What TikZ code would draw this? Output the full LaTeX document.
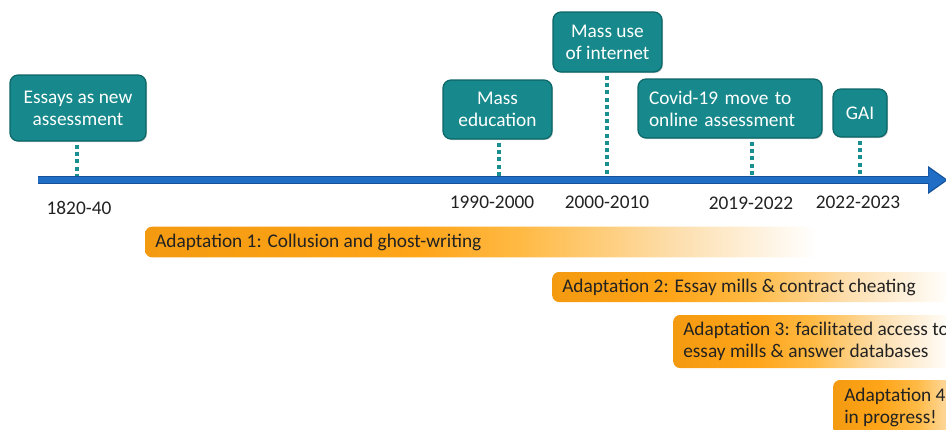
\documentclass[tikz,border=0pt]{standalone}
\usepackage{fontspec}
\setmainfont{Carlito}
\usetikzlibrary{arrows.meta,shadows}

\definecolor{tealfill}{HTML}{17888B}
\definecolor{tealedge}{HTML}{0C6668}
\definecolor{tealdot}{HTML}{1A8F92}
\definecolor{lineblue}{HTML}{1F6DC4}
\definecolor{lineedge}{HTML}{15509A}
\definecolor{ink}{HTML}{222222}
\definecolor{orA}{HTML}{F39A10}
\definecolor{orB}{HTML}{FFA51A}
\definecolor{orC}{HTML}{FFBA45}
\definecolor{orD}{HTML}{FDDFAF}

% horizontal fades: stops lie between 25bp and 75bp (the part stretched over the bar)
\pgfdeclarehorizontalshading{fadelong}{100bp}{%
  color(0bp)=(orA); color(25bp)=(orA); color(45bp)=(orB); color(52.5bp)=(orC);
  color(64bp)=(orD); color(74bp)=(white); color(100bp)=(white)}
\pgfdeclarehorizontalshading{fademid}{100bp}{%
  color(0bp)=(orA); color(25bp)=(orA); color(40bp)=(orB); color(50bp)=(orC);
  color(62bp)=(orD); color(75bp)=(white); color(100bp)=(white)}
\pgfdeclarehorizontalshading{fadeshort}{100bp}{%
  color(0bp)=(orA); color(25bp)=(orA); color(45bp)=(orB); color(60bp)=(orC);
  color(75bp)=(orD); color(100bp)=(orD)}

\tikzset{
  event/.style={draw=tealedge, line width=0.9pt, fill=tealfill, rounded corners=6pt,
    text=white, align=center, inner sep=0pt,
    font=\fontsize{14.5}{16.5}\selectfont,
    drop shadow={opacity=0.35, shadow xshift=0.8pt, shadow yshift=-0.8pt}},
  tick/.style={draw=tealdot, line width=3pt, dash pattern=on 3pt off 2.4pt},
  year/.style={text=ink, font=\fontsize{14.5}{16.5}\selectfont, inner sep=0pt},
  bar/.style={rounded corners=5pt, inner sep=0pt, anchor=west},
  bartext/.style={text=ink, align=left, anchor=west, inner sep=0pt,
    font=\fontsize{14.5}{16.5}\selectfont},
}

\begin{document}
\begin{tikzpicture}[x=0.75pt, y=-0.75pt]
\useasboundingbox (0,0) rectangle (946,429);
\clip (0,0) rectangle (946,429);

% timeline
\coordinate (start) at (38,180);
\coordinate (end) at (948,180);
\draw[lineedge, line width=6.5pt, -{Triangle[length=15pt,width=20pt]}] (start) -- (end);
\draw[lineblue, line width=4pt, -{Triangle[length=13pt,width=17pt]}] (start) -- ([xshift=-1.5pt]end);

% points on the timeline
\coordinate (t1) at (77,176);
\coordinate (t2) at (499,176);
\coordinate (t3) at (607,176);
\coordinate (t4) at (752,176);
\coordinate (t5) at (860,176);

% events
\node[event, minimum width=102pt, minimum height=49.5pt] (e1) at (78,108)
  {Essays as new\\assessment};
\node[event, minimum width=81.75pt, minimum height=44.25pt] (e2) at (497.5,109.5)
  {Mass\\education};
\node[event, minimum width=81.75pt, minimum height=45pt] (e3) at (607.5,42)
  {Mass use\\of internet};
\node[event, align=left, text width=121.5pt, inner xsep=8.25pt, minimum height=44.25pt]
  (e4) at (730,108.5) {Covid-19 move to\\online assessment};
\node[event, minimum width=40.5pt, minimum height=36pt] (e5) at (860,113) {GAI};

% dotted ticks from each event down to the timeline
\draw[tick] ([yshift=-2.5pt]e1.south -| t1) -- (t1);
\draw[tick] ([yshift=-2.5pt]e2.south -| t2) -- (t2);
\draw[tick] ([yshift=-2.5pt]e3.south -| t3) -- (t3);
\draw[tick] ([yshift=-2.5pt]e4.south -| t4) -- (t4);
\draw[tick] ([yshift=-2.5pt]e5.south -| t5) -- (t5);

% year labels
\node[year] (y1) at (79,207.5) {1820-40};
\node[year] (y2) at (492,202) {1990-2000};
\node[year] (y3) at (607,202) {2000-2010};
\node[year] (y4) at (751,203) {2019-2022};
\node[year] (y5) at (858,202) {2022-2023};

% adaptations
\node[bar, shading=fadelong, minimum width=513.75pt, minimum height=23pt] (a1) at (145,242) {};
\node[bartext] (a1t) at ([xshift=7.5pt]a1.west) {Adaptation 1: Collusion and ghost-writing};

\node[bar, shading=fademid, minimum width=300pt, minimum height=22.5pt] (a2) at (552,287) {};
\node[bartext] (a2t) at ([xshift=7.5pt]a2.west) {Adaptation 2: Essay mills \& contract cheating};

\node[bar, shading=fademid, minimum width=210pt, minimum height=39.75pt] (a3) at (673,341.5) {};
\node[bartext] (a3t) at ([xshift=7.5pt]a3.west) {Adaptation 3: facilitated access to\\essay mills \& answer databases};

\node[bar, shading=fadeshort, minimum width=90pt, minimum height=48pt] (a4) at (833,412) {};
\node[bartext] (a4t) at (844,407.5) {Adaptation 4\\in progress!};
\end{tikzpicture}
\end{document}
